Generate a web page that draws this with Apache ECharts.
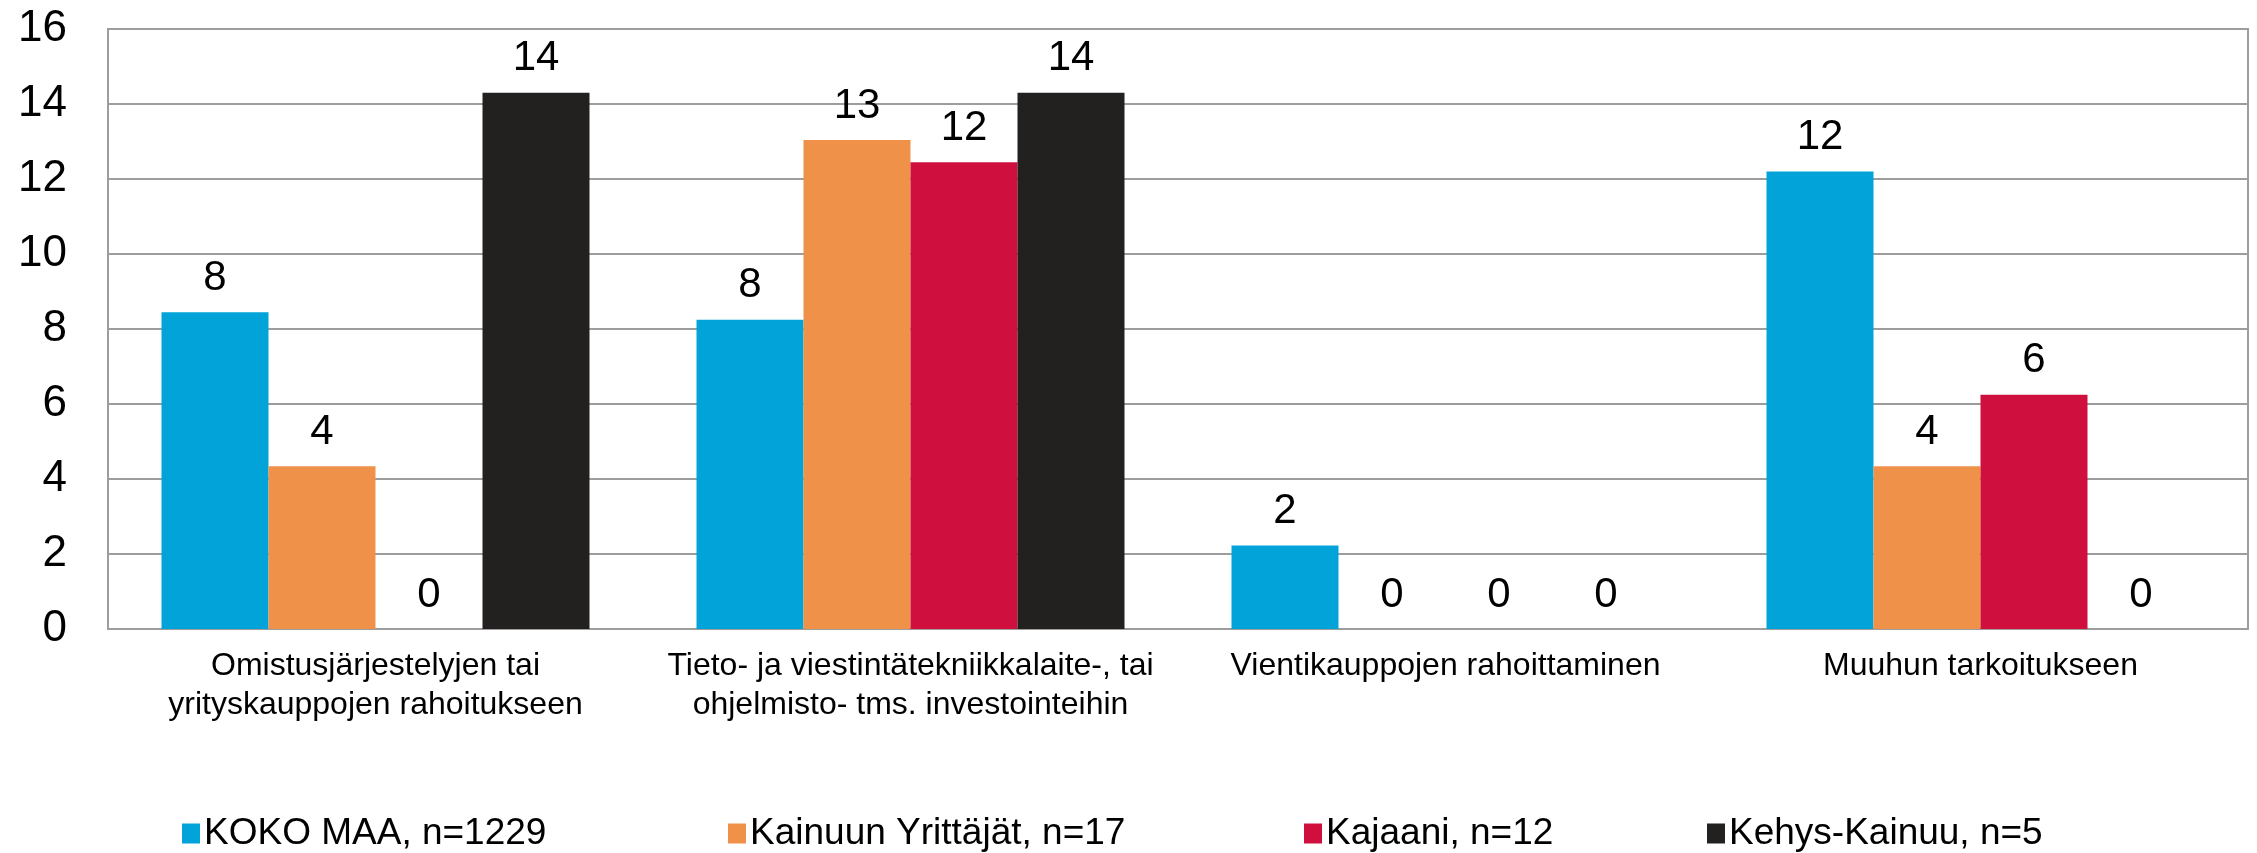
<!DOCTYPE html>
<html>
<head>
<meta charset="utf-8">
<script src="https://cdn.jsdelivr.net/npm/echarts@6/dist/echarts.min.js"></script>
<style>
    html, body {margin: 0; padding: 0; background: #fff;}
    #container {width: 2257px; height: 853px;}
</style>
</head>
<body>
<div id="container"></div>
<script>
var categories = [
    'Omistusjärjestelyjen tai\nyrityskauppojen rahoitukseen',
    'Tieto- ja viestintätekniikkalaite-, tai\nohjelmisto- tms. investointeihin',
    'Vientikauppojen rahoittaminen',
    'Muuhun tarkoitukseen'
];
var seriesNames = ['KOKO MAA, n=1229', 'Kainuun Yrittäjät, n=17', 'Kajaani, n=12', 'Kehys-Kainuu, n=5'];
var kokoMaa = [8.45, 8.25, 2.23, 12.2];
var kainuunYrittajat = [4.34, 13.04, 0, 4.34];
var kajaani = [0, 12.45, 0, 6.25];
var kehysKainuu = [14.3, 14.3, 0, 0];
var yTicks = [0, 2, 4, 6, 8, 10, 12, 14, 16];

var colors = ['#02a3d9', '#f0914a', '#cf103f', '#222120'];
var legendLeft = [177, 723, 1299, 1702];
var font = '"Liberation Sans", Arial, sans-serif';

var dom = document.getElementById('container');
var myChart = echarts.init(dom);

var values = [kokoMaa, kainuunYrittajat, kajaani, kehysKainuu];
var series = [];
var legends = [];
for (var i = 0; i < seriesNames.length; i++) {
    series.push({
        name: seriesNames[i],
        type: 'bar',
        data: values[i],
        barGap: 0,
        barCategoryGap: '20%',
        itemStyle: {color: colors[i]},
        label: {
            show: true,
            position: 'top',
            distance: 13,
            color: '#000',
            fontFamily: font,
            fontSize: 42,
            formatter: function (p) {
                return Math.round(p.value);
            }
        }
    });
    legends.push({
        data: [seriesNames[i]],
        left: legendLeft[i],
        bottom: -4,
        itemWidth: 18,
        itemHeight: 20,
        itemGap: 0,
        icon: 'rect',
        textStyle: {fontFamily: font, fontSize: 37, color: '#000', padding: [0, 0, 0, -1]}
    });
}

var option = {
    animation: false,
    color: colors,
    legend: legends,
    grid: {
        left: 108,
        right: 9,
        top: 29,
        bottom: 224,
        show: true,
        borderColor: '#9d9d9d',
        borderWidth: 2
    },
    xAxis: {
        type: 'category',
        data: categories,
        axisLine: {lineStyle: {color: '#9d9d9d', width: 2}},
        axisTick: {show: false},
        axisLabel: {
            color: '#000',
            fontFamily: font,
            fontSize: 32,
            lineHeight: 39,
            margin: 18,
            interval: 0
        }
    },
    yAxis: {
        type: 'value',
        min: yTicks[0],
        max: yTicks[yTicks.length - 1],
        interval: yTicks[1] - yTicks[0],
        axisLine: {show: true, lineStyle: {color: '#9d9d9d', width: 2}},
        axisTick: {show: false},
        splitLine: {lineStyle: {color: '#9d9d9d', width: 2}},
        axisLabel: {
            color: '#000',
            fontFamily: font,
            fontSize: 44,
            margin: 41
        }
    },
    series: series
};

myChart.setOption(option);
</script>
</body>
</html>
